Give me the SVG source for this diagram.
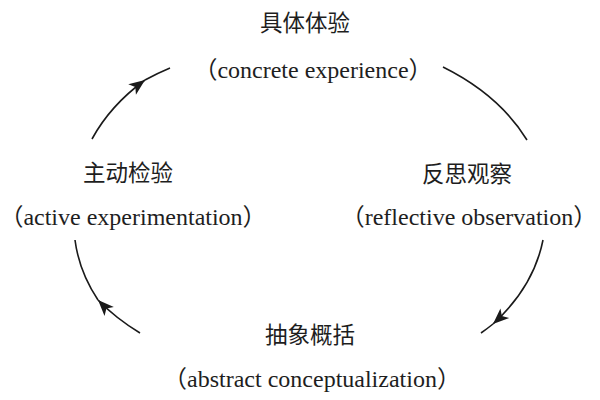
<svg xmlns="http://www.w3.org/2000/svg" width="600" height="400" viewBox="0 0 600 400">
<defs>
<marker id="ah" markerUnits="userSpaceOnUse" markerWidth="20" markerHeight="16" viewBox="-17 -8 20 16" refX="0" refY="0" orient="auto">
<path d="M0,0 L-16,-6.5 L-12,0 L-16,6.5 Z" fill="#1a1a1a"/>
</marker>
<style>
.cn{font-family:"Noto Sans CJK SC",sans-serif;font-size:22.5px;fill:#1e1e1e;text-anchor:middle}
.en{font-family:"Liberation Serif","Noto Sans CJK SC",serif;font-size:24px;fill:#1e1e1e;text-anchor:middle}
.arc{fill:none;stroke:#1a1a1a;stroke-width:1.6}
</style>
</defs>
<rect width="600" height="400" fill="#ffffff"/>
<g id="connectors">
<path class="arc" d="M92,139 A240,175 0 0 1 145,80" marker-end="url(#ah)"/>
<path class="arc" d="M145,80 A240,175 0 0 1 170,68"/>
<path class="arc" d="M443,67 A240,175 0 0 1 527,140"/>
<path class="arc" d="M543,240 A240,175 0 0 1 493,324" marker-end="url(#ah)"/>
<path class="arc" d="M493,324 A240,175 0 0 1 481,333"/>
<path class="arc" d="M140,333 A240,175 0 0 1 98,300" marker-end="url(#ah)"/>
<path class="arc" d="M98,300 A240,175 0 0 1 75,240"/>
</g>
<g id="concrete-experience">
<text class="cn" x="305" y="31">具体体验</text>
<text class="en" x="313" y="78">（concrete experience）</text>
</g>
<g id="reflective-observation">
<text class="cn" x="467" y="182">反思观察</text>
<text class="en" x="469" y="225">（reflective observation）</text>
</g>
<g id="abstract-conceptualization">
<text class="cn" x="310" y="343">抽象概括</text>
<text class="en" x="312" y="387">（abstract conceptualization）</text>
</g>
<g id="active-experimentation">
<text class="cn" x="128" y="181">主动检验</text>
<text class="en" x="133" y="225">（active experimentation）</text>
</g>
</svg>
